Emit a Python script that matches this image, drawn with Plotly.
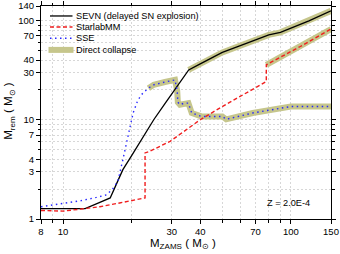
import plotly.graph_objects as go

# ---------------- data ----------------
sevn_m = [8, 10, 12.5, 14.5, 16.1, 17.1, 18.3, 20, 22, 25, 28, 30, 32, 35.6, 40, 50, 60, 70, 80, 90, 100, 110, 120, 150]
sevn_r = [1.27, 1.27, 1.27, 1.47, 1.63, 2.22, 3.14, 4.35, 6.25, 10.0, 14.5, 18.2, 22.3, 31.8, 36.6, 47.7, 55.8, 63.6, 71.6, 76, 84, 91, 99, 125]

starlab_m = [8, 10, 12.3, 14.5, 17.7, 22.9, 22.9, 24, 29.5, 40, 48.7, 78, 78, 110, 150]
starlab_r = [1.22, 1.2, 1.27, 1.33, 1.45, 1.63, 4.63, 4.8, 6.06, 10.0, 13.1, 24.3, 35.8, 54.7, 82]

sse_m = [8, 10, 12, 14, 15.5, 16.5, 17.4, 18.3, 19, 20, 20.3, 21.3, 22.4, 23.7, 25, 28, 31, 31.7, 31.9, 32.6, 34, 35.5, 36.7, 40.5, 50, 52, 68, 100, 150]
sse_r = [1.33, 1.43, 1.53, 1.65, 1.75, 2.0, 2.4, 3.96, 5.8, 10.0, 11.7, 15.8, 18.6, 20.8, 22.5, 24.0, 25.2, 19.5, 15.0, 14.2, 14.7, 14.7, 11.7, 10.8, 10.8, 10.1, 11.7, 13.6, 13.6]

# direct-collapse regime starts (ZAMS mass) for each model
dc_start_sse = 23.7
dc_start_sevn = 35.6
dc_start_starlab = 78

x_major = [8, 10, 30, 40, 70, 100, 150]
x_minor = [9, 20, 50, 60, 80, 90]
y_major = [1, 3, 4, 7, 10, 30, 40, 70, 100, 140]
y_minor = [2, 5, 6, 8, 9, 20, 50, 60, 80, 90]

legend_names = ["SEVN (delayed SN explosion)", "StarlabMM", "SSE", "Direct collapse"]
z_label = "Z = 2.0E-4"

# ---------------- build ----------------
OLIVE = "rgb(198,198,140)"
FONT = "Arial, Liberation Sans, sans-serif"


def segment(ms, rs, start):
    xs, ys = [], []
    for m, r in zip(ms, rs):
        if m >= start:
            xs.append(m)
            ys.append(r)
    return xs, ys


dcx, dcy = [], []
for ms, rs, st in [(sse_m, sse_r, dc_start_sse), (sevn_m, sevn_r, dc_start_sevn),
                   (starlab_m, starlab_r, dc_start_starlab)]:
    xs, ys = segment(ms, rs, st)
    if st == dc_start_starlab:
        xs, ys = xs[1:], ys[1:]
    dcx += xs + [None]
    dcy += ys + [None]

fig = go.Figure()
fig.add_trace(go.Scatter(x=dcx, y=dcy, mode="lines", name=legend_names[3],
                         line=dict(color=OLIVE, width=6), showlegend=False))
fig.add_trace(go.Scatter(x=sevn_m, y=sevn_r, mode="lines", name=legend_names[0],
                         line=dict(color="black", width=1.3), showlegend=False))
fig.add_trace(go.Scatter(x=starlab_m, y=starlab_r, mode="lines", name=legend_names[1],
                         line=dict(color="rgb(240,30,30)", width=1.4, dash="4px,2.5px"), showlegend=False))
fig.add_trace(go.Scatter(x=sse_m, y=sse_r, mode="lines", name=legend_names[2],
                         line=dict(color="rgb(40,40,255)", width=1.4, dash="1.5px,3.5px"), showlegend=False))

L, R, T, B = 41, 9, 6, 34.5
W, H = 340, 254
pw, ph = W - L - R, H - T - B


def px(x):
    return (x - L) / pw


def py(y):
    return (H - B - y) / ph


axis_common = dict(
    type="log", showline=True, linecolor="black", linewidth=1, mirror="ticks",
    ticks="outside", ticklen=4, tickcolor="black", tickwidth=1,
    showgrid=True, gridcolor="rgb(215,215,215)", griddash="2px,2px", gridwidth=1,
    zeroline=False, tickfont=dict(family=FONT, size=9.5, color="black"),
)

fig.update_xaxes(**axis_common, range=[0.90309, 2.176091], tickmode="array",
                 tickvals=x_major, ticktext=[str(v) for v in x_major],
                 minor=dict(tickmode="array", tickvals=x_minor, ticks="outside", ticklen=2.5,
                            tickcolor="black", showgrid=True, gridcolor="rgb(215,215,215)",
                            griddash="2px,2px"))
fig.update_yaxes(**axis_common, range=[0, 2.146128], tickmode="array",
                 tickvals=y_major, ticktext=[str(v) for v in y_major],
                 minor=dict(tickmode="array", tickvals=y_minor, ticks="outside", ticklen=2.5,
                            tickcolor="black", showgrid=True, gridcolor="rgb(215,215,215)",
                            griddash="2px,2px"))

# legend (drawn manually to match compact spacing)
rows = [16, 27, 38.3, 50]
styles = [dict(color="black", width=1.3),
          dict(color="rgb(240,30,30)", width=1.4, dash="4px,2.5px"),
          dict(color="rgb(40,40,255)", width=1.4, dash="1.5px,3.5px"),
          dict(color=OLIVE, width=6)]
shapes = []
annotations = []
for i, (yy, st) in enumerate(zip(rows, styles)):
    x0, x1 = (50, 72.5) if i < 3 else (48.5, 73.5)
    shapes.append(dict(type="line", xref="paper", yref="paper", x0=px(x0), x1=px(x1),
                       y0=py(yy), y1=py(yy), line=st))
    annotations.append(dict(text=legend_names[i], xref="paper", yref="paper", x=px(73.5), y=py(yy),
                            xanchor="left", yanchor="middle", showarrow=False,
                            font=dict(family=FONT, size=9.2, color="black")))

annotations.append(dict(text=z_label, xref="paper", yref="paper", x=px(288), y=py(203),
                        xanchor="center", yanchor="middle", showarrow=False,
                        font=dict(family=FONT, size=9.2, color="black")))
annotations.append(dict(text="M<sub>ZAMS</sub> ( M<sub>⊙</sub> )", xref="paper", yref="paper",
                        x=px(183), y=py(244.5), xanchor="center", yanchor="middle", showarrow=False,
                        font=dict(family=FONT, size=11.5, color="black")))
annotations.append(dict(text="M<sub>rem</sub> ( M<sub>⊙</sub> )", xref="paper", yref="paper",
                        x=px(9), y=py(112), xanchor="center", yanchor="middle", showarrow=False,
                        textangle=-90, font=dict(family=FONT, size=11.5, color="black")))

fig.update_layout(width=W, height=H, margin=dict(l=L, r=R, t=T, b=B, autoexpand=False),
                  paper_bgcolor="white", plot_bgcolor="white", showlegend=False,
                  shapes=shapes, annotations=annotations,
                  font=dict(family=FONT, size=9.5, color="black"))

fig.write_html("out.html", config={"displayModeBar": False},
               post_script="document.body.style.margin='0px';document.body.style.overflow='hidden';")
